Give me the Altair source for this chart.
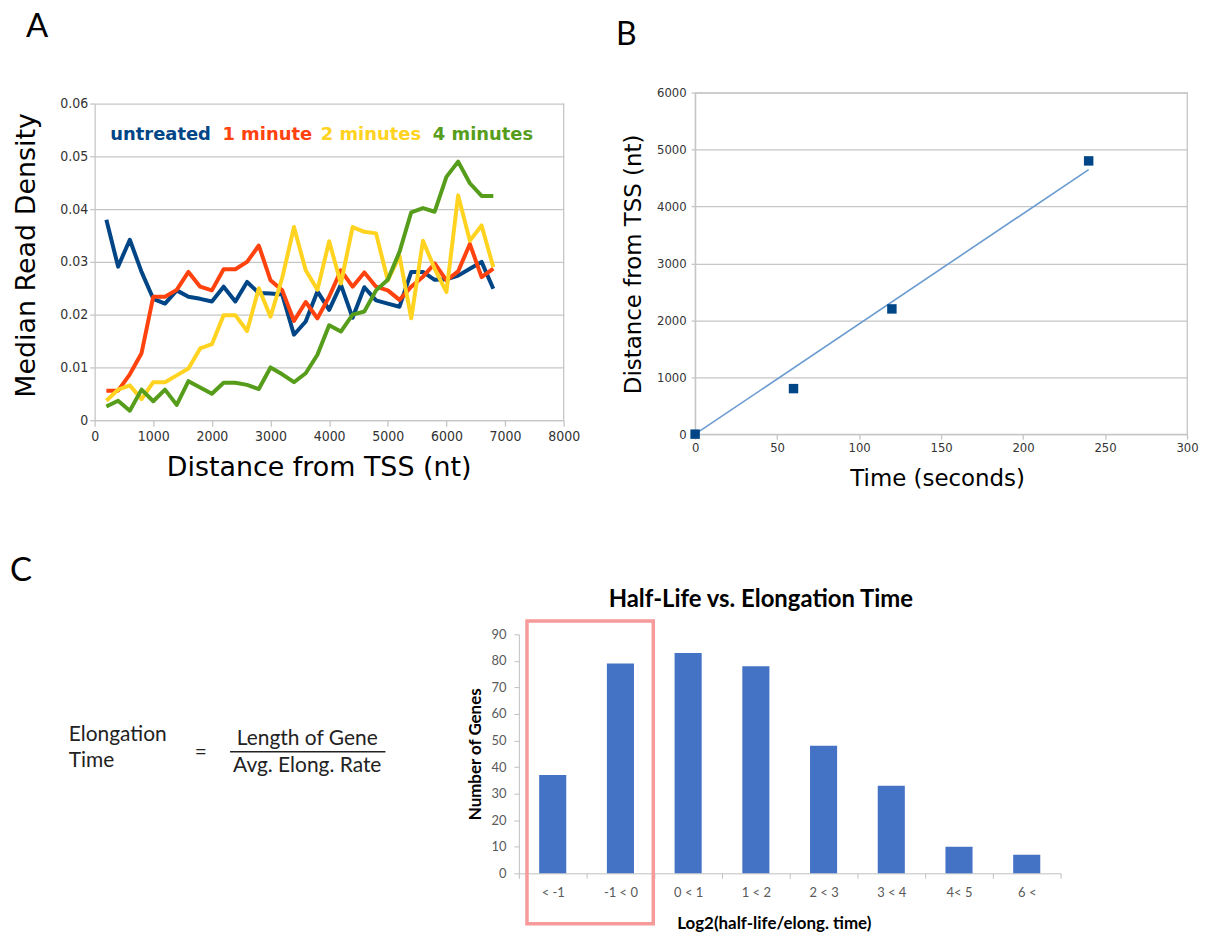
import altair as alt
import pandas as pd

# ---------------- Panel A data ----------------
distance_nt = [200, 400, 600, 800, 1000, 1200, 1400, 1600, 1800, 2000,
               2200, 2400, 2600, 2800, 3000, 3200, 3400, 3600, 3800, 4000,
               4200, 4400, 4600, 4800, 5000, 5200, 5400, 5600, 5800, 6000,
               6200, 6400, 6600, 6800]
untreated = [0.0380, 0.0291, 0.0342, 0.0281, 0.0230, 0.0221, 0.0246, 0.0234, 0.0230, 0.0225,
             0.0253, 0.0225, 0.0262, 0.0241, 0.0240, 0.0238, 0.0162, 0.0187, 0.0244, 0.0209,
             0.0257, 0.0194, 0.0252, 0.0227, 0.0221, 0.0215, 0.0281, 0.0281, 0.0266, 0.0267,
             0.0274, 0.0287, 0.0300, 0.0249]
one_minute = [0.0056, 0.0056, 0.0087, 0.0127, 0.0234, 0.0234, 0.0247, 0.0281, 0.0253, 0.0246,
              0.0286, 0.0286, 0.0300, 0.0331, 0.0265, 0.0246, 0.0188, 0.0224, 0.0193, 0.0234,
              0.0284, 0.0253, 0.0280, 0.0253, 0.0246, 0.0228, 0.0253, 0.0272, 0.0297, 0.0265,
              0.0282, 0.0334, 0.0271, 0.0287]
two_minutes = [0.0037, 0.0058, 0.0066, 0.0040, 0.0072, 0.0072, 0.0085, 0.0098, 0.0136, 0.0144,
               0.0199, 0.0199, 0.0169, 0.0250, 0.0196, 0.0270, 0.0366, 0.0284, 0.0247, 0.0339,
               0.0259, 0.0366, 0.0357, 0.0354, 0.0265, 0.0311, 0.0193, 0.0340, 0.0287, 0.0243,
               0.0426, 0.0340, 0.0369, 0.0290]
four_minutes = [0.0026, 0.0037, 0.0018, 0.0058, 0.0036, 0.0058, 0.0029, 0.0074, 0.0062, 0.0050,
                0.0071, 0.0071, 0.0067, 0.0059, 0.0100, 0.0087, 0.0072, 0.0089, 0.0124, 0.0180,
                0.0168, 0.0200, 0.0206, 0.0246, 0.0266, 0.0319, 0.0394, 0.0402, 0.0395, 0.0461,
                0.0490, 0.0449, 0.0425, 0.0425]
series_names = ["untreated", "1 minute", "2 minutes", "4 minutes"]
series_colors = ["#004586", "#ff420e", "#ffd320", "#579d1c"]
a_x_ticks = [0, 1000, 2000, 3000, 4000, 5000, 6000, 7000, 8000]
a_y_ticks = [0, 0.01, 0.02, 0.03, 0.04, 0.05, 0.06]

# ---------------- Panel B data ----------------
time_s = [0, 60, 120, 240]
front_nt = [0, 800, 2200, 4800]
b_x_ticks = [0, 50, 100, 150, 200, 250, 300]
b_y_ticks = [0, 1000, 2000, 3000, 4000, 5000, 6000]

# ---------------- Panel C data ----------------
bins = ["< -1", "-1 < 0", "0 < 1", "1 < 2", "2 < 3", "3 < 4", "4< 5", "6 <"]
genes = [37, 79, 83, 78, 48, 33, 10, 7]
c_y_ticks = [0, 10, 20, 30, 40, 50, 60, 70, 80, 90]
highlight = ["< -1", "-1 < 0"]

# ---------------- styles ----------------
TICK_FONT = "Liberation Sans Narrow, DejaVu Sans Condensed, Liberation Sans, sans-serif"
GRID = "#c6c6c6"
LW = 1.3


def one_row():
    return pd.DataFrame({"k": [0]})


def label(text, x, y, size, font="Lato", weight="normal", color="#000000", align="left"):
    return alt.Chart(pd.DataFrame({"t": [text]})).mark_text(
        font=font, fontSize=size, fontWeight=weight, color=color, align=align,
        baseline="alphabetic"
    ).encode(text="t:N", x=alt.value(x), y=alt.value(y))


def spacer(x1, y1, x2, y2):
    return alt.Chart(one_row()).mark_rule(strokeOpacity=0, strokeWidth=0).encode(
        x=alt.value(x1), y=alt.value(y1), x2=alt.value(x2), y2=alt.value(y2))


# ================= Panel A =================
# plot origin shares its top with panel B; the 0.06 line sits 11 px lower
rows = []
for name, vals in zip(series_names, [untreated, one_minute, two_minutes, four_minutes]):
    for d, v in zip(distance_nt, vals):
        rows.append({"series": name, "nt": d, "density": v})
df_a = pd.DataFrame(rows)

A_H = 329
a_x = alt.X("nt:Q", scale=alt.Scale(domain=[0, 8000], nice=False, zero=False),
            axis=alt.Axis(values=a_x_ticks, format="d", grid=False, labelFlush=False,
                          labelOverlap=False,
                          domainColor=GRID, domainWidth=LW, tickColor=GRID, tickWidth=LW,
                          tickSize=6, labelFont=TICK_FONT, labelFontSize=14,
                          labelColor="#333333", labelPadding=3,
                          title="Distance from TSS (nt)", titleFont="DejaVu Sans",
                          titleFontSize=27, titleFontWeight="normal", titleColor="#000000",
                          titleX=225, titleY=56, titleBaseline="alphabetic"))
a_y = alt.Y("density:Q", scale=alt.Scale(domain=[0, 0.06], nice=False, range=[A_H, 11]),
            axis=alt.Axis(values=a_y_ticks, format=".2~f", grid=True, gridColor=GRID,
                          labelOverlap=False,
                          gridWidth=LW, domainColor=GRID, domainWidth=LW, tickColor=GRID,
                          tickWidth=LW, tickSize=5, labelFont=TICK_FONT, labelFontSize=14,
                          labelColor="#333333", labelPadding=2,
                          title="Median Read Density", titleFont="DejaVu Sans",
                          titleFontSize=27, titleFontWeight="normal", titleColor="#000000",
                          titleAngle=270, titleX=-68, titleY=163, titleBaseline="middle"))

a_lines = alt.Chart(df_a).mark_line(strokeWidth=4, strokeJoin="round").encode(
    x=a_x, y=a_y,
    color=alt.Color("series:N", scale=alt.Scale(domain=series_names, range=series_colors),
                    legend=None),
)
a_frame = alt.Chart(pd.DataFrame({"nt": [max(a_x_ticks)], "density": [min(a_y_ticks)],
                                  "top": [max(a_y_ticks)]})).mark_rule(
    color=GRID, strokeWidth=LW).encode(x=a_x, y=a_y, y2=alt.Y2("top:Q"))

legend_x = [15.7, 128.3, 227, 339.6]
a_legend = [label(n, lx, 47.3, 18, font="DejaVu Sans", weight="bold", color=c)
            for n, c, lx in zip(series_names, series_colors, legend_x)]

a_chart = alt.layer(
    a_frame, a_lines, *a_legend,
    label("A", -69, -56, 33),
    spacer(-87, -82, 495, 410),
).properties(width=471, height=A_H, view=alt.ViewBackground(strokeOpacity=0))

# ================= Panel B =================
df_b = pd.DataFrame({"t": time_s, "d": front_nt})
slope = sum(t * d for t, d in zip(time_s, front_nt)) / sum(t * t for t in time_s)
df_trend = pd.DataFrame({"t": [min(time_s), max(time_s)],
                         "d": [slope * min(time_s), slope * max(time_s)]})

b_x = alt.X("t:Q", scale=alt.Scale(domain=[0, 300], nice=False, zero=False),
            axis=alt.Axis(values=b_x_ticks, format="d", grid=False, labelFlush=False,
                          labelOverlap=False,
                          domainColor=GRID, domainWidth=LW, tickColor=GRID, tickWidth=LW,
                          tickSize=5, labelFont=TICK_FONT, labelFontSize=13,
                          labelColor="#333333", labelPadding=2,
                          title="Time (seconds)", titleFont="DejaVu Sans", titleFontSize=23,
                          titleFontWeight="normal", titleColor="#000000",
                          titleX=243, titleY=52, titleBaseline="alphabetic"))
b_y = alt.Y("d:Q", scale=alt.Scale(domain=[0, 6000], nice=False),
            axis=alt.Axis(values=b_y_ticks, format="d", grid=True, gridColor=GRID,
                          labelOverlap=False,
                          gridWidth=LW, domainColor=GRID, domainWidth=LW, tickColor=GRID,
                          tickWidth=LW, tickSize=4, labelFont=TICK_FONT, labelFontSize=13,
                          labelColor="#333333", labelPadding=5,
                          title="Distance from TSS (nt)", titleFont="DejaVu Sans",
                          titleFontSize=23, titleFontWeight="normal", titleColor="#000000",
                          titleAngle=270, titleX=-62, titleY=172, titleBaseline="middle"))

b_trend = alt.Chart(df_trend).mark_line(color="#6a9bd0", strokeWidth=1.6).encode(x=b_x, y=b_y)
b_points = alt.Chart(df_b).mark_point(shape="square", filled=True, size=90, opacity=1,
                                      color="#004586").encode(x=b_x, y=b_y)

b_chart = alt.layer(
    b_trend, b_points,
    label("B", -79.5, -47.3, 32),
    spacer(-97, -82, 480, 410),
).properties(width=494, height=343,
             view=alt.ViewBackground(stroke=GRID, strokeWidth=LW))

# ================= Panel C (formula part) =================
formula_rule = alt.Chart(one_row()).mark_rule(color="#222222", strokeWidth=1.5).encode(
    x=alt.value(136), x2=alt.value(292), y=alt.value(118))

f_chart = alt.layer(
    label("C", -85, -54, 33),
    label("Elongation", -26, 107, 21, color="#222222"),
    label("Time", -26, 133, 21, color="#222222"),
    label("=", 106.5, 125, 21, color="#222222", align="center"),
    label("Length of Gene", 213.5, 111, 21, color="#222222", align="center"),
    label("Avg. Elong. Rate", 213.5, 138, 21, color="#222222", align="center"),
    formula_rule,
    spacer(-87, -85, 300, 240),
).properties(width=300, height=240, view=alt.ViewBackground(strokeOpacity=0))

# ================= Panel C (bar chart) =================
df_c = pd.DataFrame({"bin": bins, "genes": genes})
df_box = pd.DataFrame({"b1": [highlight[0]], "b2": [highlight[1]], "top": [95], "bottom": [-19]})

c_x_scale = alt.Scale(domain=bins, paddingInner=0, paddingOuter=0)
c_y_scale = alt.Scale(domain=[0, 90], nice=False)
c_x_axis = alt.Axis(labelAngle=0, tickBand="extent", domainColor="#bfbfbf",
                    labelOverlap=False,
                    tickColor="#bfbfbf", tickSize=5, labelFont="Lato",
                    labelFontSize=13, labelColor="#595959", labelPadding=8,
                    title="Log2(half-life/elong. time)", titleFont="Lato",
                    titleFontSize=17, titleFontWeight="bold", titleColor="#000000",
                    titleX=256, titleY=55, titleBaseline="alphabetic")
c_y_axis = alt.Axis(values=c_y_ticks, grid=False, domainColor="#bfbfbf",
                    labelOverlap=False,
                    tickColor="#bfbfbf", tickSize=5, labelFont="Lato",
                    labelFontSize=13, labelColor="#595959", labelPadding=8,
                    title="Number of Genes", titleFont="Lato", titleFontSize=17,
                    titleFontWeight="bold", titleColor="#000000", titleAngle=270,
                    titleX=-44, titleY=120, titleBaseline="middle")

c_bars = alt.Chart(df_c).mark_bar(color="#4472c4", width=alt.RelativeBandSize(0.4)).encode(
    x=alt.X("bin:N", scale=c_x_scale, axis=c_x_axis),
    y=alt.Y("genes:Q", scale=c_y_scale, axis=c_y_axis),
)

c_box = alt.Chart(df_box).mark_rect(fillOpacity=0, stroke="#f79a9a", strokeWidth=3.5,
                                    clip=False).encode(
    x=alt.X("b1:N", scale=c_x_scale, axis=c_x_axis, bandPosition=0.12),
    x2=alt.X2("b2:N", bandPosition=0.985),
    y=alt.Y("top:Q", scale=c_y_scale, axis=c_y_axis),
    y2=alt.Y2("bottom:Q"),
)

c_chart = alt.layer(
    c_bars, c_box,
    label("Half-Life vs. Elongation Time", 243, -27, 24, weight="bold", align="center"),
    spacer(-70, -85, 540, 240),
).properties(width=544, height=240,
             view=alt.ViewBackground(strokeOpacity=0))

top_row = alt.hconcat(a_chart, b_chart, spacing=10)
bottom_row = alt.hconcat(f_chart, c_chart, spacing=56)
chart = alt.vconcat(top_row, bottom_row, spacing=48).properties(
    padding={"left": 0, "top": 0, "right": 0, "bottom": 0}, background="#ffffff")

chart.save("out.html", embed_options={"renderer": "svg", "actions": False})
